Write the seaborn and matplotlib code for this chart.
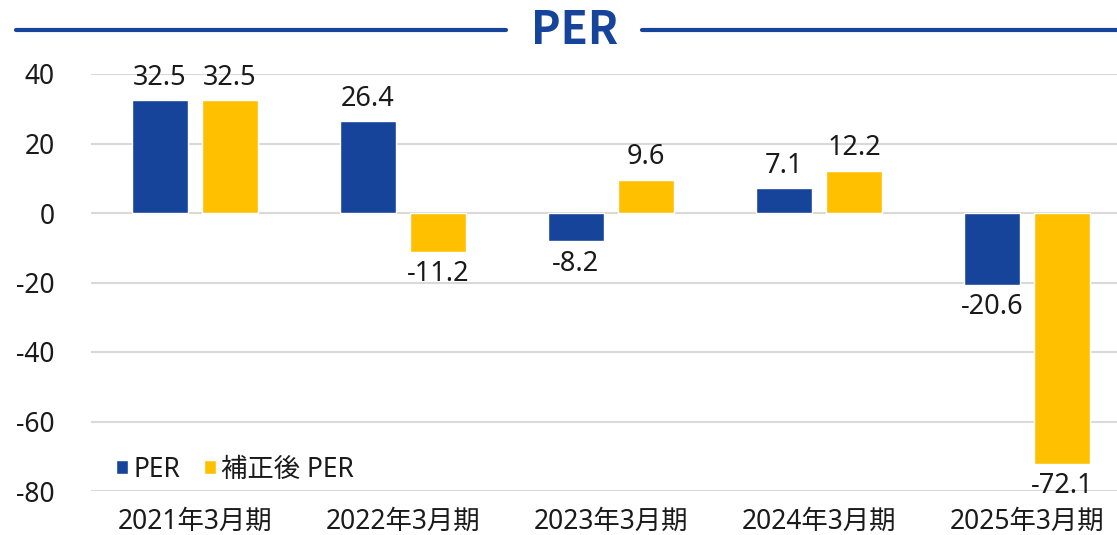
import pandas as pd
import matplotlib.pyplot as plt
import seaborn as sns
from matplotlib.lines import Line2D

# data
periods = ['2021年3月期', '2022年3月期', '2023年3月期', '2024年3月期', '2025年3月期']
per = [32.5, 26.4, -8.2, 7.1, -20.6]
adj_per = [32.5, -11.2, 9.6, 12.2, -72.1]
series_names = ['PER', '補正後 PER']

BLUE = '#17449B'
YELLOW = '#FFC000'
TXT = '#1a1a1a'

df = pd.DataFrame({
    'Period': periods * 2,
    'Value': per + adj_per,
    'Series': [series_names[0]] * len(periods) + [series_names[1]] * len(periods),
})

sns.set_theme(style='white')
plt.rcParams['font.family'] = ['Noto Sans', 'Noto Sans CJK JP', 'DejaVu Sans']
plt.rcParams['axes.unicode_minus'] = False

fig = plt.figure(figsize=(11.17, 5.35), dpi=100)
ax = fig.add_axes([91 / 1117, 44 / 535, 1040 / 1117, 417 / 535])

sns.barplot(data=df, x='Period', y='Value', hue='Series',
            palette=[BLUE, YELLOW], width=0.675, gap=0.21,
            saturation=1, ax=ax, legend=True)

ax.set_ylim(-80, 40)
ax.set_yticks(range(-80, 41, 20))
ax.yaxis.grid(True, color='#D9D9D9', linewidth=1.5)
ax.set_axisbelow(True)
for s in ax.spines.values():
    s.set_visible(False)
ax.set_xlabel('')
ax.set_ylabel('')
ax.tick_params(axis='y', labelsize=19, pad=26, length=0, labelcolor=TXT)
ax.tick_params(axis='x', labelsize=19, pad=12, length=0, labelcolor=TXT)

# value labels
for cont in ax.containers:
    ax.bar_label(cont, fmt='%.1f', padding=6, fontsize=19.5, color=TXT,
                 clip_on=False)

leg = ax.legend(loc='lower left', bbox_to_anchor=(0.014, -0.008), ncol=2,
                frameon=False, fontsize=19, handlelength=0.45, handleheight=0.45,
                handletextpad=0.2, columnspacing=0.9, borderaxespad=0)
for t in leg.get_texts():
    t.set_color(TXT)

# title with rules on each side
fig.text(575 / 1117, 1 - 31 / 535, 'PER', ha='center', va='center',
         fontsize=32, fontweight='bold', color=BLUE,
         family=['Noto Sans CJK JP', 'DejaVu Sans'])
fig.add_artist(Line2D([16 / 1117, 506 / 1117], [1 - 30 / 535] * 2,
                      color=BLUE, linewidth=3, transform=fig.transFigure))
fig.add_artist(Line2D([642 / 1117, 1.0], [1 - 30 / 535] * 2,
                      color=BLUE, linewidth=3, transform=fig.transFigure))

fig.savefig('out.png', dpi=100)
